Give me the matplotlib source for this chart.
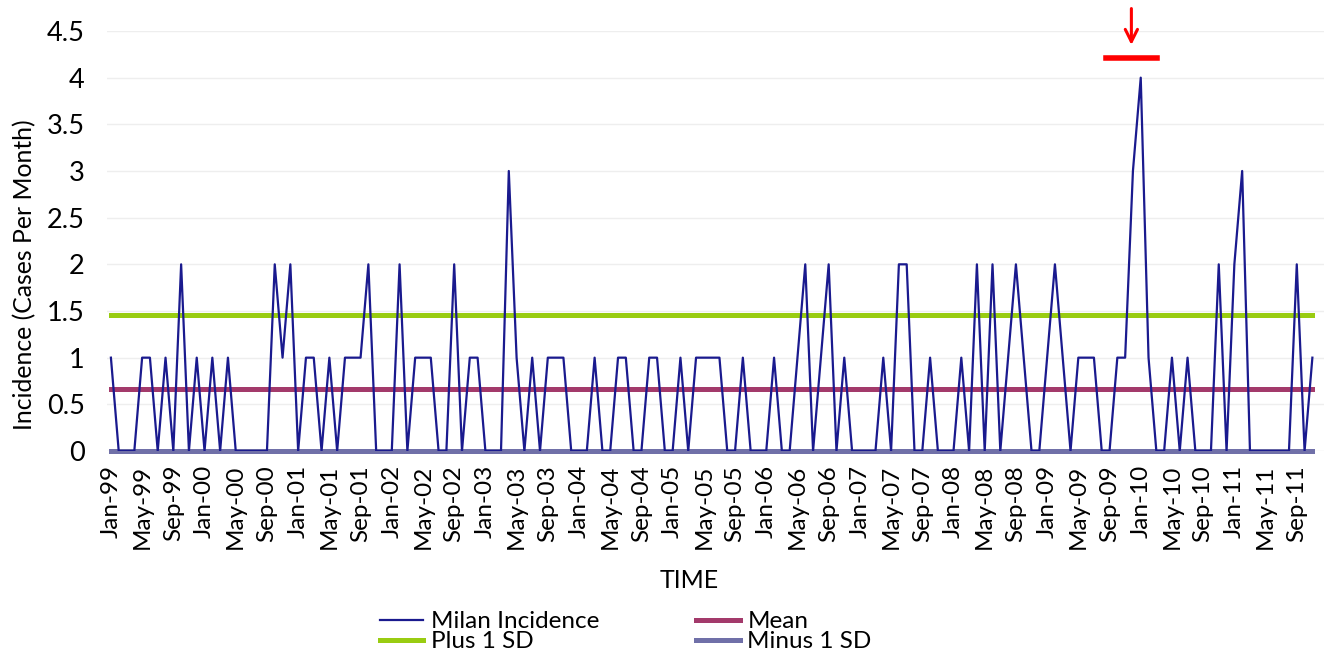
import matplotlib
matplotlib.use("Agg")
from matplotlib import pyplot as plt

# monthly incidence, Jan-99 .. Nov-11
incidence = [1, 0, 0, 0, 1, 1, 0, 1, 0, 2,
             0, 1, 0, 1, 0, 1, 0, 0, 0, 0,
             0, 2, 1, 2, 0, 1, 1, 0, 1, 0,
             1, 1, 1, 2, 0, 0, 0, 2, 0, 1,
             1, 1, 0, 0, 2, 0, 1, 1, 0, 0,
             0, 3, 1, 0, 1, 0, 1, 1, 1, 0,
             0, 0, 1, 0, 0, 1, 1, 0, 0, 1,
             1, 0, 0, 1, 0, 1, 1, 1, 1, 0,
             0, 1, 0, 0, 0, 1, 0, 0, 1, 2,
             0, 1, 2, 0, 1, 0, 0, 0, 0, 1,
             0, 2, 2, 0, 0, 1, 0, 0, 0, 1,
             0, 2, 0, 2, 0, 1, 2, 1, 0, 0,
             1, 2, 1, 0, 1, 1, 1, 0, 0, 1,
             1, 3, 4, 1, 0, 0, 1, 0, 1, 0,
             0, 0, 2, 0, 2, 3, 0, 0, 0, 0,
             0, 0, 2, 0, 1]
mean_value = 0.66
plus_sd_value = 1.46
minus_sd_value = 0.0  # shown on the axis floor

month_names = ["Jan", "May", "Sep"]
years = ["99", "00", "01", "02", "03", "04", "05", "06", "07", "08", "09", "10", "11"]
tick_labels = [m + "-" + y for y in years for m in month_names]

n_months = len(incidence)
x = list(range(n_months))

plt.rcParams['font.family'] = ['Lato', 'DejaVu Sans']

fig = plt.figure(figsize=(13.31, 6.58), dpi=100)
ax = fig.add_axes([0.0804, 0.3146, 0.9144, 0.6383])

ax.plot(x, incidence, color="#1a1a8e", linewidth=1.6, label="Milan Incidence", zorder=5)
ax.plot(x, [mean_value] * n_months, color="#a33a6b", linewidth=3.6, label="Mean", zorder=4)
ax.plot(x, [plus_sd_value] * n_months, color="#99cc11", linewidth=3.6, label="Plus 1 SD", zorder=4)
ax.plot(x, [minus_sd_value] * n_months, color="#7070a8", linewidth=3.6, label="Minus 1 SD",
        zorder=4, clip_on=False)

ax.set_xlim(-0.5, n_months + 0.5)
ax.set_ylim(0, 4.5)
ax.set_yticks([0, 0.5, 1, 1.5, 2, 2.5, 3, 3.5, 4, 4.5])
ax.set_yticklabels(["0", "0.5", "1", "1.5", "2", "2.5", "3", "3.5", "4", "4.5"])
ax.set_xticks(range(0, 4 * len(tick_labels), 4))
ax.set_xticklabels(tick_labels, rotation=90)
ax.tick_params(axis="both", length=0)
ax.tick_params(axis="y", pad=16, labelsize=19.5)
ax.tick_params(axis="x", pad=10, labelsize=17.5)
ax.grid(axis="y", color="#eeeeee", linewidth=1)
ax.set_axisbelow(True)
for s in ax.spines.values():
    s.set_visible(False)

ax.set_ylabel("Incidence (Cases Per Month)", fontsize=17.8)
ax.yaxis.set_label_coords(-0.0583, 0.42)
fig.text(0.518, 0.118, "TIME", ha="center", va="center", fontsize=18)

# red marker above the Jan-10 peak
ax.plot([127.6, 134.1], [4.21, 4.21], color="red", linewidth=4, clip_on=False)
ax.annotate("", xy=(130.8, 4.32), xytext=(130.8, 4.77), textcoords="data",
            arrowprops=dict(arrowstyle="->", color="red", lw=2.2, mutation_scale=22),
            annotation_clip=False)

handles, labels = ax.get_legend_handles_labels()
order = [0, 2, 1, 3]
fig.legend([handles[i] for i in order], [labels[i] for i in order],
           loc="center", bbox_to_anchor=(0.47, 0.04), ncol=2, frameon=False,
           fontsize=17.5, handlelength=1.8, handletextpad=0.3, labelspacing=-0.05,
           columnspacing=4.0, borderpad=0)

fig.savefig("out.png", dpi=100)
